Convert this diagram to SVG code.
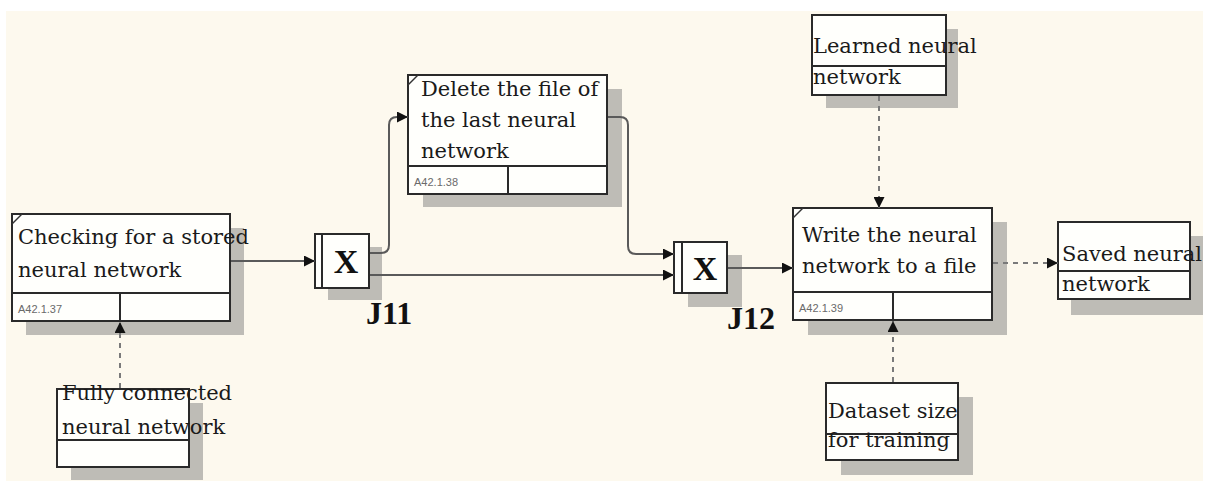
<svg xmlns="http://www.w3.org/2000/svg" width="1209" height="487" viewBox="0 0 1209 487">
<defs>
<style>
.bg{fill:#fdf9ee}
.sh{fill:#bebcb6}
.box{fill:#fffffc;stroke:#2a2a2a;stroke-width:2}
.div{stroke:#2a2a2a;stroke-width:2;fill:none}
.lbl{font-family:"DejaVu Serif","Liberation Serif",serif;font-size:21px;fill:#1a1a1a}
.num{font-family:"Liberation Sans",sans-serif;font-size:11px;fill:#6a6a6a}
.jx{font-family:"Liberation Serif",serif;font-weight:bold;font-size:34px;fill:#111;text-anchor:middle}
.jn{font-family:"Liberation Serif",serif;font-weight:bold;font-size:32px;fill:#111}
.ln{fill:none;stroke:#5a5a5a;stroke-width:2}
.dash{fill:none;stroke:#7a7a7a;stroke-width:2;stroke-dasharray:5 5}
.tick{stroke:#333;stroke-width:1.5}
</style>
<marker id="ah" viewBox="0 0 10 10" refX="10" refY="5" markerWidth="11" markerHeight="11" markerUnits="userSpaceOnUse" orient="auto">
<path d="M0,0 L10,5 L0,10 Z" fill="#111"/>
</marker>
</defs>
<rect x="0" y="0" width="1209" height="487" fill="#ffffff"/>
<rect class="bg" x="6" y="11" width="1197" height="470"/>

<g id="n-checking">
<rect class="sh" x="26" y="228" width="218" height="107"/>
<rect class="box" x="12" y="214" width="218" height="107"/>
<line class="div" x1="12" y1="293" x2="230" y2="293"/>
<line class="div" x1="120" y1="293" x2="120" y2="321"/>
<line class="tick" x1="12" y1="224" x2="22" y2="214"/>
<text class="lbl" x="18" y="244">Checking for a stored</text>
<text class="lbl" x="18" y="277">neural network</text>
<text class="num" x="18" y="313">A42.1.37</text>
</g>

<g id="n-j11">
<rect class="sh" x="328" y="247" width="54" height="53"/>
<rect class="box" x="315" y="234" width="54" height="54"/>
<line class="div" x1="322" y1="234" x2="322" y2="288"/>
<text class="jx" x="346" y="273">X</text>
<text class="jn" x="366" y="324">J11</text>
</g>

<g id="n-delete">
<rect class="sh" x="423" y="89" width="199" height="118"/>
<rect class="box" x="408" y="75" width="199" height="119"/>
<line class="div" x1="408" y1="166" x2="607" y2="166"/>
<line class="div" x1="508" y1="166" x2="508" y2="194"/>
<line class="tick" x1="408" y1="85" x2="418" y2="75"/>
<text class="lbl" x="421" y="96">Delete the file of</text>
<text class="lbl" x="421" y="127">the last neural</text>
<text class="lbl" x="421" y="158">network</text>
<text class="num" x="414" y="186">A42.1.38</text>
</g>

<g id="n-j12">
<rect class="sh" x="688" y="255" width="54" height="52"/>
<rect class="box" x="674" y="242" width="53" height="51"/>
<line class="div" x1="682" y1="242" x2="682" y2="293"/>
<text class="jx" x="705" y="280">X</text>
<text class="jn" x="727" y="329">J12</text>
</g>

<g id="n-write">
<rect class="sh" x="808" y="222" width="199" height="113"/>
<rect class="box" x="793" y="208" width="199" height="112"/>
<line class="div" x1="793" y1="292" x2="992" y2="292"/>
<line class="div" x1="893" y1="292" x2="893" y2="320"/>
<line class="tick" x1="793" y1="218" x2="803" y2="208"/>
<text class="lbl" x="802" y="242">Write the neural</text>
<text class="lbl" x="802" y="273">network to a file</text>
<text class="num" x="799" y="312">A42.1.39</text>
</g>

<g id="n-saved">
<rect class="sh" x="1071" y="236" width="132" height="79"/>
<rect class="box" x="1058" y="222" width="132" height="77"/>
<line class="div" x1="1058" y1="271" x2="1190" y2="271"/>
<text class="lbl" x="1062" y="261">Saved neural</text>
<text class="lbl" x="1062" y="291">network</text>
</g>

<g id="n-learned">
<rect class="sh" x="826" y="29" width="132" height="79"/>
<rect class="box" x="812" y="15" width="134" height="80"/>
<line class="div" x1="812" y1="66" x2="946" y2="66"/>
<text class="lbl" x="813" y="53">Learned neural</text>
<text class="lbl" x="813" y="84">network</text>
</g>

<g id="n-fully">
<rect class="sh" x="71" y="403" width="132" height="77"/>
<rect class="box" x="57" y="389" width="132" height="78"/>
<line class="div" x1="57" y1="440" x2="189" y2="440"/>
<text class="lbl" x="62" y="400">Fully connected</text>
<text class="lbl" x="62" y="434">neural network</text>
</g>

<g id="n-dataset">
<rect class="sh" x="841" y="397" width="132" height="78"/>
<rect class="box" x="826" y="383" width="132" height="77"/>
<line class="div" x1="826" y1="434" x2="958" y2="434"/>
<text class="lbl" x="828" y="418">Dataset size</text>
<text class="lbl" x="828" y="447">for training</text>
</g>

<g id="connectors">
<path class="ln" d="M231,261 H315" marker-end="url(#ah)"/>
<path class="ln" d="M370,253 H381 Q389,253 389,245 V125 Q389,117 397,117 H408" marker-end="url(#ah)"/>
<path class="ln" d="M370,275 H674" marker-end="url(#ah)"/>
<path class="ln" d="M608,117 H620 Q628,117 628,125 V246 Q628,254 636,254 H674" marker-end="url(#ah)"/>
<path class="ln" d="M728,268 H793" marker-end="url(#ah)"/>
<path class="dash" d="M993,263 H1058" marker-end="url(#ah)"/>
<path class="dash" d="M879,96 V208" marker-end="url(#ah)"/>
<path class="dash" d="M120,388 V322" marker-end="url(#ah)"/>
<path class="dash" d="M893,382 V321" marker-end="url(#ah)"/>
</g>
</svg>
